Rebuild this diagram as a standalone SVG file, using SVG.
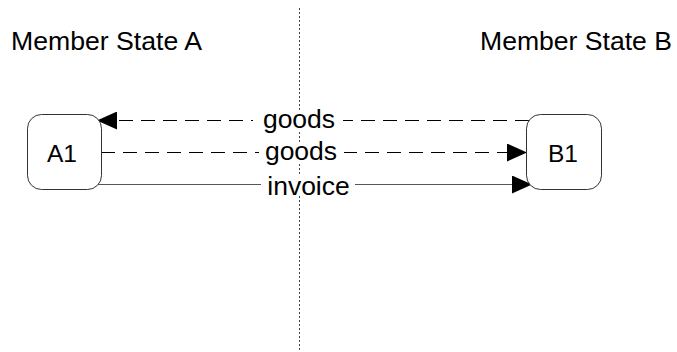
<svg xmlns="http://www.w3.org/2000/svg" width="677" height="352" viewBox="0 0 677 352">
<style>
.t{font-family:"Liberation Sans",Arial,sans-serif;fill:#000}
.title{font-size:25.5px}
.nlbl{font-size:24.5px;text-anchor:middle}
.node{fill:#fff;stroke:#333;stroke-width:1}
.lbl{font-size:26.5px;text-anchor:middle}
.dash{fill:none;stroke:#000;stroke-width:1;stroke-dasharray:14 8}
.solid{fill:none;stroke:#555;stroke-width:1}
.bg{fill:#fff}
</style>
<defs>
<marker id="arr" markerUnits="userSpaceOnUse" markerWidth="20" markerHeight="18" viewBox="0 0 20 18" refX="20" refY="9" orient="auto">
<path d="M0,0 L20,9 L0,18 Z" fill="#000"/>
</marker>
</defs>
<rect width="677" height="352" fill="#fff"/>
<g id="divider">
<line x1="299.5" y1="8" x2="299.5" y2="352" stroke="#444" stroke-width="1" stroke-dasharray="2 2"/>
</g>
<g id="titles">
<text class="t title" x="11" y="49.5" textLength="191" lengthAdjust="spacingAndGlyphs">Member State A</text>
<text class="t title" x="480" y="49.5" textLength="192" lengthAdjust="spacingAndGlyphs">Member State B</text>
</g>
<g id="connectors">
<path class="dash" d="M529,120.5 L97,120.5" marker-end="url(#arr)"/>
<path class="dash" d="M101,152.5 L527,152.5" marker-end="url(#arr)"/>
<path class="solid" d="M97,184.5 L532,184.5" marker-end="url(#arr)"/>
<rect class="bg" x="253" y="110" width="90" height="21"/>
<rect class="bg" x="259" y="142" width="85" height="21"/>
<rect class="bg" x="261" y="174" width="94" height="21"/>
<text class="t lbl" x="299" y="128">goods</text>
<text class="t lbl" x="301" y="160">goods</text>
<text class="t lbl" x="308.5" y="195">invoice</text>
</g>
<g id="A1">
<rect class="node" x="27.5" y="114.5" width="74" height="75" rx="14"/>
<text class="t nlbl" x="62" y="162">A1</text>
</g>
<g id="B1">
<rect class="node" x="526.5" y="114.5" width="75" height="75" rx="14"/>
<text class="t nlbl" x="563" y="162">B1</text>
</g>
</svg>
